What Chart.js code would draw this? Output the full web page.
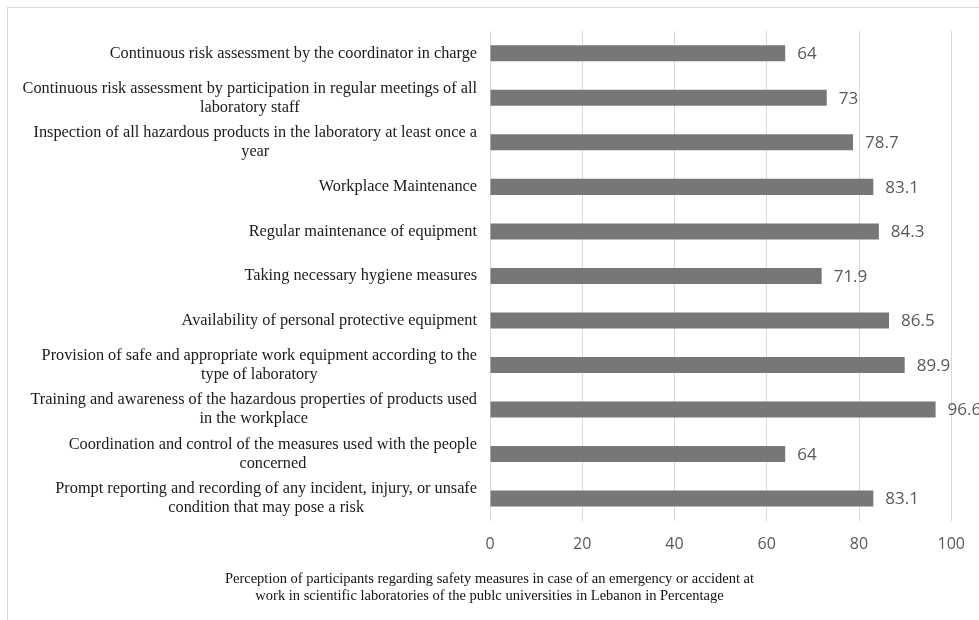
<!DOCTYPE html>
<html>
<head>
<meta charset="utf-8">
<script src="https://cdn.jsdelivr.net/npm/chart.js@4.4.1/dist/chart.umd.min.js"></script>
<style>
  html, body { margin: 0; padding: 0; background: #fff; overflow: hidden; }
  #wrap { position: relative; width: 979px; height: 620px; }
  #frame { position: absolute; left: 7px; top: 7px; width: 1100px; height: 700px; border: 1px solid #d9d9d9; }
  #holder { position: absolute; left: 0; top: 0; width: 979px; height: 620px; }
</style>
</head>
<body>
<div id="wrap">
  <div id="frame"></div>
  <div id="holder"><canvas id="mainChart"></canvas></div>
</div>
<script>
const measures = [
    ["Continuous risk assessment by the coordinator in charge"],
    ["Continuous risk assessment by participation in regular meetings of all", "laboratory staff"],
    ["Inspection of all hazardous products in the laboratory at least once a", "year"],
    ["Workplace Maintenance"],
    ["Regular maintenance of equipment"],
    ["Taking necessary hygiene measures"],
    ["Availability of personal protective equipment"],
    ["Provision of safe and appropriate work equipment according to the", "type of laboratory"],
    ["Training and awareness of the hazardous properties of products used", "in the workplace"],
    ["Coordination and control of the measures used with the people", "concerned"],
    ["Prompt reporting and recording of any incident, injury, or unsafe", "condition that may pose a risk"],
];
const percentages = [64, 73, 78.7, 83.1, 84.3, 71.9, 86.5, 89.9, 96.6, 64, 83.1];
const xTicks = [0, 20, 40, 60, 80, 100];
const titleLines = [
    "Perception of participants regarding safety measures in case of an emergency or accident at",
    "work in scientific laboratories of the publc universities in Lebanon in Percentage",
];

// y labels: block right aligned, lines centred inside the block
const categoryLabels = {
    id: 'categoryLabels',
    afterDraw(chart) {
        const ctx = chart.ctx;
        const yScale = chart.scales.y;
        const right = 477;
        const lineH = 19;
        ctx.save();
        ctx.font = '16.3px "Liberation Serif", "Times New Roman", serif';
        ctx.fillStyle = '#1a1a1a';
        ctx.textAlign = 'center';
        ctx.textBaseline = 'middle';
        measures.forEach((lines, i) => {
            const yc = yScale.getPixelForValue(i);
            const w = Math.max(...lines.map(l => ctx.measureText(l).width));
            const xc = right - w / 2;
            const y0 = yc - (lines.length - 1) * lineH / 2;
            lines.forEach((l, j) => ctx.fillText(l, xc, y0 + j * lineH));
        });
        ctx.restore();
    }
};

const valueLabels = {
    id: 'valueLabels',
    afterDatasetsDraw(chart) {
        const ctx = chart.ctx;
        const meta = chart.getDatasetMeta(0);
        ctx.save();
        ctx.font = '17px "Open Sans", sans-serif';
        ctx.fillStyle = '#595959';
        ctx.textAlign = 'left';
        ctx.textBaseline = 'middle';
        meta.data.forEach((bar, i) => {
            ctx.fillText(String(percentages[i]), bar.x + 12, bar.y + 1);
        });
        ctx.restore();
    }
};

const ctx = document.getElementById('mainChart').getContext('2d');
new Chart(ctx, {
    type: 'bar',
    data: {
        labels: measures.map(l => l.join(' ')),
        datasets: [{
            data: percentages,
            backgroundColor: '#77777a',
            borderWidth: 0,
            barPercentage: 0.36,
            categoryPercentage: 1,
        }],
    },
    options: {
        indexAxis: 'y',
        responsive: true,
        maintainAspectRatio: false,
        animation: false,
        layout: { padding: { left: 24, right: 24, top: 31, bottom: 5 } },
        plugins: {
            legend: { display: false },
            tooltip: { enabled: false },
            title: {
                display: true,
                position: 'bottom',
                text: titleLines,
                color: '#111',
                font: { family: '"Liberation Serif", "Times New Roman", serif', size: 14.5, weight: 'normal', lineHeight: 1.17 },
                padding: { top: 3, bottom: 10 },
            },
        },
        scales: {
            x: {
                min: 0,
                max: 100,
                afterBuildTicks(scale) { scale.ticks = xTicks.map(v => ({ value: v })); },
                grid: { color: '#d9d9d9', drawTicks: false },
                border: { display: false },
                ticks: {
                    color: '#595959',
                    padding: 14,
                    font: { family: '"Open Sans", sans-serif', size: 16 },
                },
            },
            y: {
                grid: { display: false },
                border: { display: false },
                ticks: { display: false },
                afterFit(scale) { scale.width = 466; },
            },
        },
    },
    plugins: [categoryLabels, valueLabels],
});
</script>
</body>
</html>
